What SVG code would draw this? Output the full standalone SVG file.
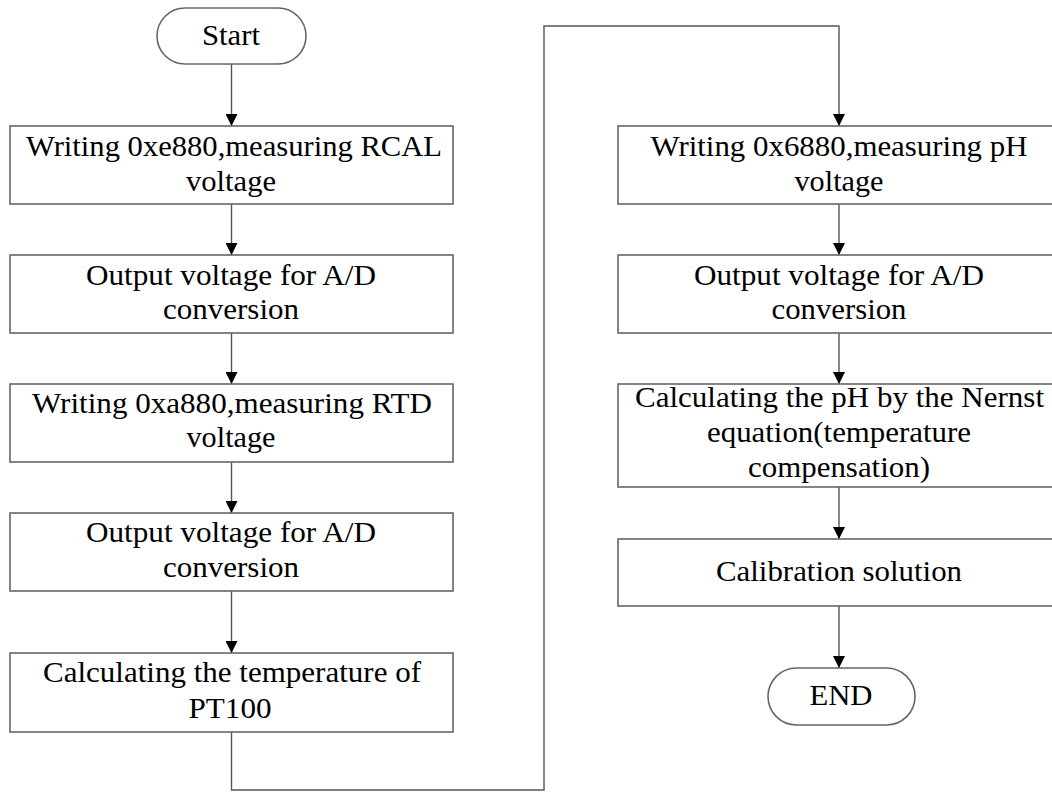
<svg xmlns="http://www.w3.org/2000/svg" width="1052" height="792" viewBox="0 0 1052 792">
<defs>
<style>
.box{fill:#fff;stroke:#666;stroke-width:1.6}
.t{font-family:'Liberation Serif','Times New Roman',serif;font-size:30px;fill:#000;text-anchor:middle}
.c{fill:none;stroke:#555;stroke-width:1.4}
</style>
<marker id="ah" viewBox="0 0 12 12" refX="12" refY="6" markerWidth="12" markerHeight="12" markerUnits="userSpaceOnUse" orient="auto">
<path d="M0,0 L12,6 L0,12 z" fill="#000"/>
</marker>
</defs>
<rect width="1052" height="792" fill="#fff"/>
<g id="connectors">
<line class="c" x1="231.5" y1="64" x2="231.5" y2="126" marker-end="url(#ah)"/>
<line class="c" x1="231.5" y1="204" x2="231.5" y2="255" marker-end="url(#ah)"/>
<line class="c" x1="231.5" y1="333" x2="231.5" y2="384" marker-end="url(#ah)"/>
<line class="c" x1="231.5" y1="462" x2="231.5" y2="513" marker-end="url(#ah)"/>
<line class="c" x1="231.5" y1="591" x2="231.5" y2="653" marker-end="url(#ah)"/>
<polyline class="c" points="231.5,732 231.5,790 544,790 544,26 839,26 839,126" marker-end="url(#ah)"/>
<line class="c" x1="839" y1="204" x2="839" y2="255" marker-end="url(#ah)"/>
<line class="c" x1="839" y1="333" x2="839" y2="384" marker-end="url(#ah)"/>
<line class="c" x1="839" y1="487" x2="839" y2="539" marker-end="url(#ah)"/>
<line class="c" x1="839" y1="606" x2="839" y2="668" marker-end="url(#ah)"/>
</g>
<g id="start">
<rect class="box" x="157" y="8" width="149" height="56" rx="28" ry="28"/>
<text class="t" x="231" y="45" textLength="58" lengthAdjust="spacingAndGlyphs">Start</text>
</g>
<g id="n1">
<rect class="box" x="10" y="126" width="443" height="78"/>
<text class="t" x="234" y="156" textLength="416" lengthAdjust="spacingAndGlyphs">Writing 0xe880,measuring RCAL</text>
<text class="t" x="231" y="191" textLength="90" lengthAdjust="spacingAndGlyphs">voltage</text>
</g>
<g id="n2">
<rect class="box" x="10" y="255" width="443" height="78"/>
<text class="t" x="231" y="285" textLength="290" lengthAdjust="spacingAndGlyphs">Output voltage for A/D</text>
<text class="t" x="231" y="319" textLength="136" lengthAdjust="spacingAndGlyphs">conversion</text>
</g>
<g id="n3">
<rect class="box" x="10" y="384" width="443" height="78"/>
<text class="t" x="232" y="413" textLength="400" lengthAdjust="spacingAndGlyphs">Writing 0xa880,measuring RTD</text>
<text class="t" x="231" y="447" textLength="89" lengthAdjust="spacingAndGlyphs">voltage</text>
</g>
<g id="n4">
<rect class="box" x="10" y="513" width="443" height="78"/>
<text class="t" x="231" y="542" textLength="290" lengthAdjust="spacingAndGlyphs">Output voltage for A/D</text>
<text class="t" x="231" y="577" textLength="136" lengthAdjust="spacingAndGlyphs">conversion</text>
</g>
<g id="n5">
<rect class="box" x="10" y="653" width="443" height="79"/>
<text class="t" x="232" y="682" textLength="378" lengthAdjust="spacingAndGlyphs">Calculating the temperature of</text>
<text class="t" x="230" y="718" textLength="83" lengthAdjust="spacingAndGlyphs">PT100</text>
</g>
<g id="r1">
<rect class="box" x="618" y="126" width="442" height="78"/>
<text class="t" x="839" y="156" textLength="377" lengthAdjust="spacingAndGlyphs">Writing 0x6880,measuring pH</text>
<text class="t" x="839" y="191" textLength="89" lengthAdjust="spacingAndGlyphs">voltage</text>
</g>
<g id="r2">
<rect class="box" x="618" y="255" width="442" height="78"/>
<text class="t" x="839" y="285" textLength="290" lengthAdjust="spacingAndGlyphs">Output voltage for A/D</text>
<text class="t" x="839" y="319" textLength="135" lengthAdjust="spacingAndGlyphs">conversion</text>
</g>
<g id="r3">
<rect class="box" x="618" y="384" width="442" height="103"/>
<text class="t" x="839.5" y="407" textLength="409" lengthAdjust="spacingAndGlyphs">Calculating the pH by the Nernst</text>
<text class="t" x="839" y="442" textLength="264" lengthAdjust="spacingAndGlyphs">equation(temperature</text>
<text class="t" x="839" y="477" textLength="182" lengthAdjust="spacingAndGlyphs">compensation)</text>
</g>
<g id="r4">
<rect class="box" x="618" y="539" width="442" height="67"/>
<text class="t" x="839" y="581" textLength="246" lengthAdjust="spacingAndGlyphs">Calibration solution</text>
</g>
<g id="end">
<rect class="box" x="768" y="668" width="147" height="57" rx="28.5" ry="28.5"/>
<text class="t" x="841" y="705" textLength="63" lengthAdjust="spacingAndGlyphs">END</text>
</g>
</svg>
